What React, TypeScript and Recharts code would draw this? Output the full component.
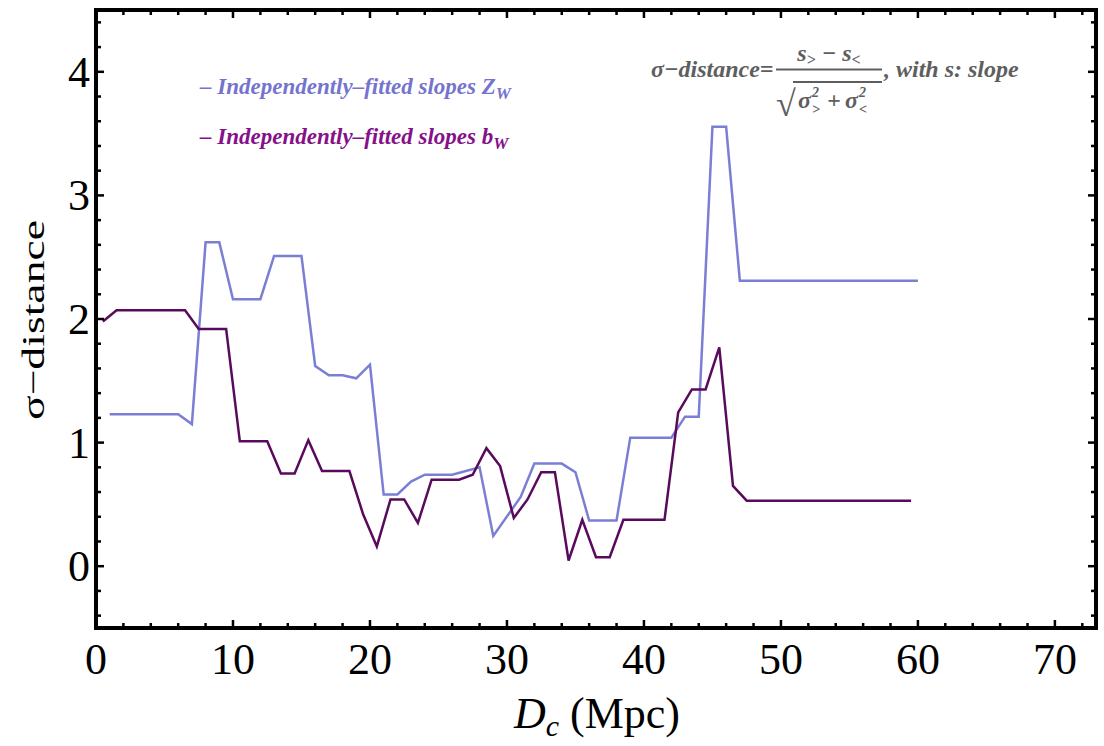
import { LineChart, Line, XAxis, YAxis } from 'recharts';

// sigma-distance vs comoving distance
const zwDistance = [1, 6, 7, 8, 9, 10, 12, 13, 15, 16, 17, 18, 19, 20, 21, 22, 23, 24, 26, 28, 29, 31, 32, 34, 35, 36, 38, 39, 42, 43, 44, 45, 46, 47, 60];
const zwSigma = [1.23, 1.23, 1.15, 2.62, 2.62, 2.16, 2.16, 2.51, 2.51, 1.62, 1.545, 1.545, 1.52, 1.63, 0.58, 0.58, 0.685, 0.74, 0.74, 0.8, 0.245, 0.56, 0.83, 0.83, 0.76, 0.37, 0.37, 1.04, 1.04, 1.21, 1.21, 3.555, 3.555, 2.31, 2.31];

const bwDistance = [0.5, 1.5, 6.5, 7.5, 9.5, 10.5, 12.5, 13.5, 14.5, 15.5, 16.5, 18.5, 19.5, 20.5, 21.5, 22.5, 23.5, 24.5, 26.5, 27.5, 28.5, 29.5, 30.5, 31.5, 32.5, 33.5, 34.5, 35.5, 36.5, 37.5, 38.5, 41.5, 42.5, 43.5, 44.5, 45.5, 46.5, 47.5, 59.5];
const bwSigma = [1.98, 2.07, 2.07, 1.92, 1.92, 1.01, 1.01, 0.75, 0.75, 1.02, 0.77, 0.77, 0.42, 0.16, 0.54, 0.54, 0.35, 0.7, 0.7, 0.74, 0.955, 0.81, 0.39, 0.54, 0.76, 0.76, 0.046, 0.375, 0.073, 0.073, 0.375, 0.375, 1.245, 1.43, 1.43, 1.77, 0.65, 0.53, 0.53];

const xTicks = [0, 2, 4, 6, 8, 10, 12, 14, 16, 18, 20, 22, 24, 26, 28, 30, 32, 34, 36, 38, 40, 42, 44, 46, 48, 50, 52, 54, 56, 58, 60, 62, 64, 66, 68, 70, 72];
const yTicks = [-0.4, -0.2, 0, 0.2, 0.4, 0.6, 0.8, 1, 1.2, 1.4, 1.6, 1.8, 2, 2.2, 2.4, 2.6, 2.8, 3, 3.2, 3.4, 3.6, 3.8, 4, 4.2, 4.4];

const zwData = zwDistance.map((x, i) => ({ x, y: zwSigma[i] }));
const bwData = bwDistance.map((x, i) => ({ x, y: bwSigma[i] }));

const BLUE = '#7b7fd4';
const PURPLE = '#5a0a5c';
const BLUE_TEXT = '#7474cf';
const PURPLE_TEXT = '#85108a';
const GREY = '#5e5e5e';
const SERIF = "'Liberation Serif', 'Times New Roman', serif";

const isMajorX = (v: number) => v % 10 === 0;
const isMajorY = (v: number) => Math.abs(v - Math.round(v)) < 1e-6;

function BottomTick({ x, y, payload }: any) {
  const major = isMajorX(payload.value);
  return (
    <g>
      <line x1={x} x2={x} y1={y} y2={y - (major ? 8 : 5)} stroke="#000" strokeWidth={2.5} />
      {major && (
        <text x={x} y={y + 46} textAnchor="middle" fontFamily={SERIF} fontSize={44} fill="#000">
          {payload.value}
        </text>
      )}
    </g>
  );
}

function TopTick({ x, y, payload }: any) {
  const major = isMajorX(payload.value);
  return <line x1={x} x2={x} y1={y} y2={y + (major ? 8 : 5)} stroke="#000" strokeWidth={2.5} />;
}

function LeftTick({ x, y, payload }: any) {
  const major = isMajorY(payload.value);
  return (
    <g>
      <line x1={x} x2={x + (major ? 8 : 5)} y1={y} y2={y} stroke="#000" strokeWidth={2.5} />
      {major && (
        <text x={x - 6} y={y + 15} textAnchor="end" fontFamily={SERIF} fontSize={44} fill="#000">
          {Math.round(payload.value)}
        </text>
      )}
    </g>
  );
}

function RightTick({ x, y, payload }: any) {
  const major = isMajorY(payload.value);
  return <line x1={x} x2={x - (major ? 8 : 5)} y1={y} y2={y} stroke="#000" strokeWidth={2.5} />;
}

const frame = { stroke: '#000', strokeWidth: 4, strokeLinecap: 'square' as const };

export default function App() {
  return (
    <div style={{ position: 'relative', width: 1104, height: 746, background: '#fff' }}>
      <style>{'body{margin:0}'}</style>
      <LineChart width={1104} height={746} margin={{ top: 9, right: 7, left: 0, bottom: 0 }}>
        <XAxis
          type="number"
          dataKey="x"
          domain={[0, 73]}
          ticks={xTicks}
          interval={0}
          height={118}
          tickSize={0}
          tickMargin={0}
          axisLine={frame}
          tickLine={false}
          tick={(p: any) => <BottomTick {...p} />}
          allowDataOverflow
        />
        <XAxis
          xAxisId="top"
          orientation="top"
          type="number"
          dataKey="x"
          domain={[0, 73]}
          ticks={xTicks}
          interval={0}
          height={1}
          tickSize={0}
          tickMargin={0}
          axisLine={frame}
          tickLine={false}
          tick={(p: any) => <TopTick {...p} />}
          allowDataOverflow
        />
        <YAxis
          type="number"
          domain={[-0.5, 4.5]}
          ticks={yTicks}
          interval={0}
          width={96}
          tickSize={0}
          tickMargin={0}
          axisLine={frame}
          tickLine={false}
          tick={(p: any) => <LeftTick {...p} />}
          allowDataOverflow
        />
        <YAxis
          yAxisId="right"
          orientation="right"
          type="number"
          domain={[-0.5, 4.5]}
          ticks={yTicks}
          interval={0}
          width={1}
          tickSize={0}
          tickMargin={0}
          axisLine={frame}
          tickLine={false}
          tick={(p: any) => <RightTick {...p} />}
          allowDataOverflow
        />
        <Line data={zwData} dataKey="y" type="linear" stroke={BLUE} strokeWidth={2.5} dot={false} isAnimationActive={false} />
        <Line data={bwData} dataKey="y" type="linear" stroke={PURPLE} strokeWidth={2.5} dot={false} isAnimationActive={false} />
      </LineChart>

      <svg width={1104} height={746} style={{ position: 'absolute', left: 0, top: 0, pointerEvents: 'none' }}>
        {/* axis titles */}
        <text
          transform="translate(44,320) rotate(-90)"
          textAnchor="middle"
          fontFamily={SERIF}
          fontSize={32}
          textLength={200}
          lengthAdjust="spacingAndGlyphs"
          fill="#000"
        >
          σ−distance
        </text>
        <text x={597} y={728} textAnchor="middle" fontFamily={SERIF} fontSize={44} fill="#000">
          <tspan fontStyle="italic">D</tspan>
          <tspan fontStyle="italic" fontSize={30} dy={8}>c</tspan>
          <tspan dy={-8}> (Mpc)</tspan>
        </text>

        {/* legend */}
        <text x={200} y={94} fontFamily={SERIF} fontSize={23} fontWeight="bold" fontStyle="italic" fill={BLUE_TEXT}>
          – Independently–fitted slopes Z<tspan fontSize={17} dy={5}>W</tspan>
        </text>
        <text x={200} y={144} fontFamily={SERIF} fontSize={23} fontWeight="bold" fontStyle="italic" fill={PURPLE_TEXT}>
          – Independently–fitted slopes b<tspan fontSize={17} dy={5}>W</tspan>
        </text>

        {/* formula */}
        <g fontFamily={SERIF} fontWeight="bold" fontStyle="italic" fill={GREY}>
          <text x={651} y={77} fontSize={24}>σ−distance=</text>
          <text x={829} y={61} fontSize={24} textAnchor="middle">
            s<tspan fontSize={16} dy={4}>&gt;</tspan>
            <tspan dy={-4}> − s</tspan>
            <tspan fontSize={16} dy={4}>&lt;</tspan>
          </text>
          <line x1={776} x2={882} y1={69.5} y2={69.5} stroke={GREY} strokeWidth={2} />
          <text x={776} y={116} fontSize={36} fontStyle="normal" fontWeight="normal">√</text>
          <line x1={793} x2={882} y1={82} y2={82} stroke={GREY} strokeWidth={2} />
          <text x={798} y={108} fontSize={24}>σ</text>
          <text x={812} y={97} fontSize={14}>2</text>
          <text x={812} y={114} fontSize={14}>&gt;</text>
          <text x={827} y={108} fontSize={24}>+</text>
          <text x={845} y={108} fontSize={24}>σ</text>
          <text x={859} y={97} fontSize={14}>2</text>
          <text x={859} y={114} fontSize={14}>&lt;</text>
          <text x={884} y={77} fontSize={24}>,  with s: slope</text>
        </g>
      </svg>
    </div>
  );
}
